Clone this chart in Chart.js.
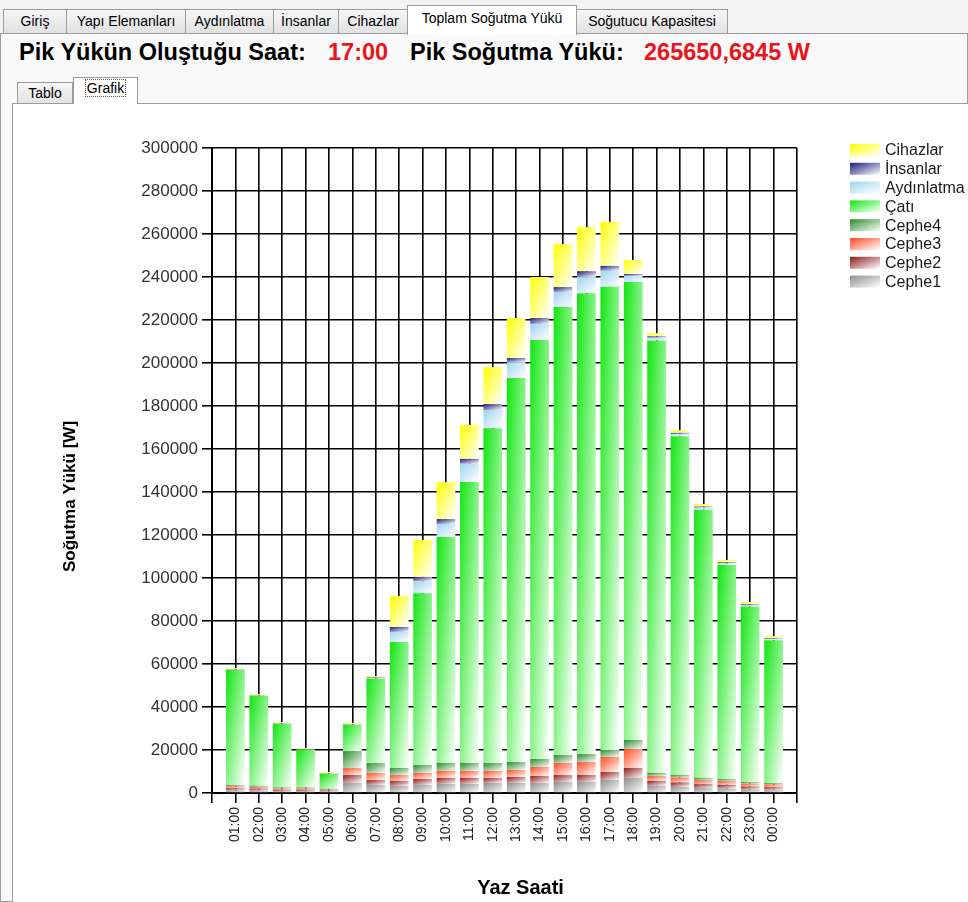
<!DOCTYPE html>
<html>
<head>
<meta charset="utf-8">
<script src="https://cdn.jsdelivr.net/npm/chart.js@4/dist/chart.umd.min.js"></script>
<style>
  body {
    margin: 0;
    width: 968px;
    height: 902px;
    overflow: hidden;
    position: relative;
    background: #f3f3f3;
    font-family: "Liberation Sans", Arial, sans-serif;
  }
  .tab {
    position: absolute;
    top: 9px;
    height: 24px;
    box-sizing: border-box;
    border: 1px solid #9c9c9c;
    border-bottom: none;
    background: linear-gradient(#f6f6f6, #e1e1e1);
    font-size: 14px;
    line-height: 22px;
    text-align: center;
    color: #000;
  }
  .tab.sel {
    top: 5px;
    height: 30px;
    background: #fff;
    line-height: 24px;
    z-index: 2;
  }
  #panel {
    position: absolute;
    left: 0;
    top: 33px;
    width: 968px;
    height: 869px;
    box-sizing: border-box;
    border: 1px solid #9c9c9c;
    background: #f9f9f9;
  }
  .head {
    position: absolute;
    top: 39px;
    font-size: 23.5px;
    font-weight: bold;
    white-space: nowrap;
  }
  .red { color: #e8161c; }
  .sub {
    position: absolute;
    height: 22px;
    box-sizing: border-box;
    border: 1px solid #9c9c9c;
    border-bottom: none;
    background: linear-gradient(#f6f6f6, #e1e1e1);
    font-size: 14px;
    text-align: center;
  }
  #page {
    position: absolute;
    left: 12px;
    top: 103px;
    width: 956px;
    height: 799px;
    box-sizing: border-box;
    border-left: 1px solid #9c9c9c;
    border-top: 1px solid #9c9c9c;
    background: #fff;
  }
  #chartBox {
    position: absolute;
    left: 13px;
    top: 104px;
    width: 955px;
    height: 798px;
  }
</style>
</head>
<body>
<div id="panel"></div>
<div class="tab" style="left:3px;width:64px">Giriş</div>
<div class="tab" style="left:66px;width:120px">Yapı Elemanları</div>
<div class="tab" style="left:185px;width:89px">Aydınlatma</div>
<div class="tab" style="left:273px;width:66px">İnsanlar</div>
<div class="tab" style="left:338px;width:70px">Cihazlar</div>
<div class="tab sel" style="left:407px;width:170px">Toplam Soğutma Yükü</div>
<div class="tab" style="left:576px;width:152px">Soğutucu Kapasitesi</div>

<div class="head" style="left:19px">Pik Yükün Oluştuğu Saat:</div>
<div class="head red" style="left:328px">17:00</div>
<div class="head" style="left:410px">Pik Soğutma Yükü:</div>
<div class="head red" style="left:644px">265650,6845 W</div>

<div class="sub" style="left:17px;top:82px;width:56px;line-height:21px">Tablo</div>
<div class="sub" style="left:73px;top:77px;width:65px;height:27px;background:#fff;z-index:2;line-height:20px">
  <span style="border:1px dotted #555;padding:0 1px">Grafik</span>
</div>

<div id="page"></div>
<div id="chartBox"><canvas id="loadChart" width="955" height="798"></canvas></div>

<script>
// -------------------------------
// DATA (W)
// -------------------------------
const hours = [
  "01:00", "02:00", "03:00", "04:00", "05:00", "06:00", "07:00", "08:00",
  "09:00", "10:00", "11:00", "12:00", "13:00", "14:00", "15:00", "16:00",
  "17:00", "18:00", "19:00", "20:00", "21:00", "22:00", "23:00", "00:00"
];

const cephe1 = [1200, 1100, 800, 800, 650, 4650, 3700, 3250, 3700, 4200, 4200, 4650,
  4650, 4650, 5100, 5100, 6050, 7000, 3300, 2800, 2300, 2100, 1700, 1500];
const cephe2 = [1000, 900, 700, 700, 500, 3700, 2300, 2300, 2800, 2800, 2800, 2300,
  2800, 3250, 3250, 3250, 3700, 4650, 2300, 2100, 1800, 1700, 1300, 1200];
const cephe3 = [900, 800, 600, 600, 450, 3250, 3250, 2800, 2800, 3250, 3250, 3300,
  3250, 4200, 5600, 6050, 7000, 8800, 2300, 2300, 1900, 1800, 1400, 1300];
const cephe4 = [600, 500, 400, 400, 300, 7900, 4650, 3250, 3700, 3700, 3700, 3700,
  3700, 3700, 3700, 3700, 3250, 4200, 1400, 1200, 1000, 900, 700, 650];
const cati = [53500, 41800, 29600, 17500, 7000, 12200, 39200, 58650, 79900, 105150, 130750, 155750,
  178600, 194900, 208350, 214400, 215450, 213050, 201200, 157500, 124800, 99500, 81600, 66450];
const aydinlatma = [200, 200, 200, 200, 200, 200, 300, 4650, 5600, 6000, 8400, 8400,
  7400, 7400, 7000, 7400, 7400, 2800, 1200, 1000, 900, 800, 700, 600];
const insanlar = [200, 200, 200, 200, 200, 200, 300, 2300, 2000, 2300, 2300, 2800,
  1900, 2800, 2300, 2800, 2300, 900, 700, 600, 500, 500, 400, 400];
const cihazlar = [500, 500, 500, 500, 500, 500, 700, 14400, 17200, 17200, 15800, 17200,
  18600, 19100, 20000, 20500, 20500, 6500, 1500, 1300, 1200, 1100, 1000, 900];

const yMin = 0;
const yMax = 300000;
const yStep = 20000;

// -------------------------------
// STYLE
// -------------------------------
const FONT = '"Liberation Sans", Arial, sans-serif';

// bottom of the stack first
const series = [
  { label: "Cephe1", data: cephe1, color: "#8e8e8e" },
  { label: "Cephe2", data: cephe2, color: "#8e1c1c" },
  { label: "Cephe3", data: cephe3, color: "#ff4a22" },
  { label: "Cephe4", data: cephe4, color: "#2a8a2a" },
  { label: "Çatı", data: cati, color: "#10e610" },
  { label: "Aydınlatma", data: aydinlatma, color: "#9fd4f0" },
  { label: "İnsanlar", data: insanlar, color: "#1c1c7a" },
  { label: "Cihazlar", data: cihazlar, color: "#ffff00" },
];

// colour at top-left, white at bottom-right (like the old WinForms chart)
function diagGradient(ctx, x, y, w, h, color) {
  if (![x, y, w, h].every(Number.isFinite)) return color;
  w = Math.max(w, 1);
  h = Math.max(h, 1);
  const a = 0.5 / w;
  const b = 0.5 / h;
  const n = a * a + b * b;
  const g = ctx.createLinearGradient(x, y, x + a / n, y + b / n);
  g.addColorStop(0, color);
  g.addColorStop(1, "#ffffff");
  return g;
}

function segmentFill(color) {
  return function (c) {
    const chart = c.chart;
    const xs = chart.scales.x;
    const ys = chart.scales.y;
    if (c.type !== "data" || !xs || !ys) return color;

    const i = c.dataIndex;
    let base = 0;
    for (let k = 0; k < c.datasetIndex; k++) {
      base += chart.data.datasets[k].data[i].y;
    }
    const val = chart.data.datasets[c.datasetIndex].data[i].y;
    const half = (xs.getPixelForValue(2) - xs.getPixelForValue(1)) * 0.4;
    const cx = xs.getPixelForValue(i + 1);
    const top = ys.getPixelForValue(base + val);
    const bottom = ys.getPixelForValue(base);
    return diagGradient(chart.ctx, cx - half, top, half * 2, bottom - top, color);
  };
}

// -------------------------------
// PLUGINS (legend + axis titles)
// -------------------------------
const sideLegend = {
  id: "sideLegend",
  afterDraw(chart) {
    const { ctx, chartArea } = chart;
    const x0 = chartArea.right + 53;
    const y0 = chartArea.top + 2;
    ctx.save();
    ctx.font = "16px " + FONT;
    ctx.textBaseline = "middle";
    ctx.textAlign = "left";
    series.slice().reverse().forEach((s, k) => {
      const y = y0 + k * 18.8;
      ctx.fillStyle = diagGradient(ctx, x0, y - 6, 30, 12, s.color);
      ctx.fillRect(x0, y - 6, 30, 12);
      ctx.fillStyle = "#1a1a1a";
      ctx.fillText(s.label, x0 + 35, y + 1);
    });
    ctx.restore();
  },
};

const axisTitles = {
  id: "axisTitles",
  afterDraw(chart) {
    const { ctx, chartArea: a } = chart;
    ctx.save();
    ctx.fillStyle = "#000";
    ctx.font = "bold 20px " + FONT;
    ctx.textAlign = "center";
    ctx.textBaseline = "middle";
    ctx.fillText("Yaz Saati", (a.left + a.right) / 2 + 16, a.bottom + 95);
    ctx.translate(a.left - 142, (a.top + a.bottom) / 2 + 26);
    ctx.rotate(-Math.PI / 2);
    ctx.font = "bold 17px " + FONT;
    ctx.fillText("Soğutma Yükü [W]", 0, 0);
    ctx.restore();
  },
};

// -------------------------------
// CHART
// -------------------------------
const chart = new Chart(document.getElementById("loadChart"), {
  type: "bar",
  data: {
    datasets: series.map((s) => ({
      label: s.label,
      data: s.data.map((v, i) => ({ x: i + 1, y: v })),
      backgroundColor: segmentFill(s.color),
      borderWidth: 0,
      categoryPercentage: 1,
      barPercentage: 0.8,
    })),
  },
  options: {
    responsive: false,
    animation: false,
    layout: { padding: { left: 0, right: 171, top: 44, bottom: 0 } },
    plugins: {
      legend: { display: false },
      tooltip: { enabled: false },
    },
    scales: {
      x: {
        type: "linear",
        stacked: true,
        offset: false,
        min: 0,
        max: hours.length + 1,
        afterFit: (s) => { s.height = 109; },
        grid: { offset: false, color: "#000", lineWidth: 1.6, tickLength: 10, tickColor: "#000" },
        border: { color: "#000", width: 2 },
        ticks: {
          stepSize: 1,
          autoSkip: false,
          maxRotation: 90,
          minRotation: 90,
          padding: 4,
          color: "#222",
          font: { family: FONT, size: 14 },
          callback: (v) => hours[v - 1] || "",
        },
      },
      y: {
        stacked: true,
        min: yMin,
        max: yMax,
        afterFit: (s) => { s.width = 199; },
        grid: { color: "#000", lineWidth: 1.6, tickLength: 10, tickColor: "#000" },
        border: { color: "#000", width: 2 },
        ticks: {
          stepSize: yStep,
          padding: 4,
          color: "#333",
          font: { family: FONT, size: 17 },
          callback: (v) => String(v),
        },
      },
    },
  },
  plugins: [sideLegend, axisTitles],
});
</script>
</body>
</html>
